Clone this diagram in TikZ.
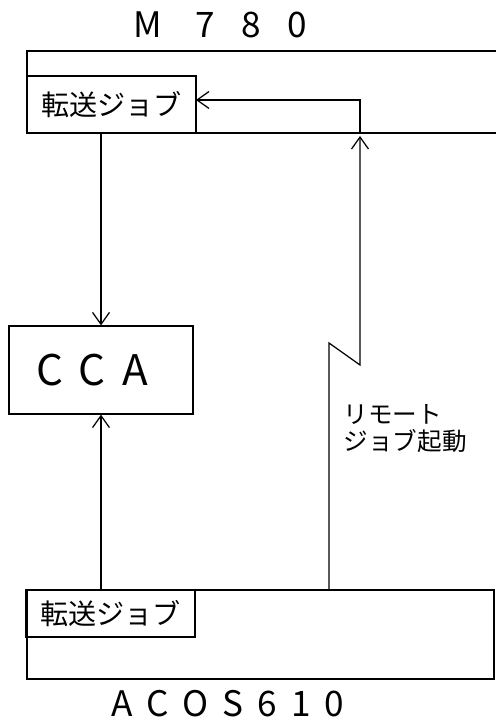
\documentclass[tikz,border=0pt]{standalone}
\usepackage{fontspec}
\setmainfont{Noto Sans CJK JP}
\newfontfamily\widefont[LetterSpace=75]{Noto Sans CJK JP}
\newfontfamily\acosfont[LetterSpace=40]{Noto Sans CJK JP}
\newfontfamily\ccafont[LetterSpace=40]{Noto Sans CJK JP}
\usepackage{tikz}
\usetikzlibrary{arrows.meta,positioning}

\begin{document}
\begin{tikzpicture}[x=0.02cm,y=-0.02cm,line width=0.7pt,
  jobbox/.style={draw,inner sep=0pt,outer sep=0pt,minimum width=3.38cm,font=\fontsize{16}{18}\selectfont},
  arr/.style={-{Straight Barb[length=2.4mm,width=3.4mm]}}]
\useasboundingbox (0,0) rectangle (496,722);
% M780 side
\node[font=\widefont\fontsize{20}{22}\selectfont] (m780lab) at (220,25) {M 780};
\draw (496,51) -- (27,51) -- (27,133) -- (496,133);
\node[jobbox,minimum height=1.14cm] (m780job) at (111.5,104.5) {転送ジョブ};
% CCA
\node[draw,inner sep=0pt,minimum width=3.68cm,minimum height=1.76cm,font=\ccafont\fontsize{24}{26}\selectfont] (cca) at (101,370) {CCA\rule{0.35cm}{0pt}};
% ACOS610 side
\draw (27,590) rectangle (494,679);
\node[jobbox,minimum height=0.94cm] (acosjob) at (110.5,613.5) {転送ジョブ};
\node[font=\acosfont\fontsize{20}{22}\selectfont] (acoslab) at (228,704) {ACOS610};
% file transfer paths
\draw[arr] (m780job.south -| cca.north) -- (cca.north);
\draw[arr] (acosjob.north -| cca.south) -- (cca.south);
% remote job start
\coordinate (rstart) at (329,590);
\coordinate (rtop) at (360,136);
\draw[arr] (rstart) -- (329,343) -- (360,365) -- (rtop);
\draw[arr] (360,133) -- (360,100) -- (m780job.east |- 0,100);
\node[anchor=north west,align=left,inner sep=0pt,font=\fontsize{14}{15.5}\selectfont] (rlab) at (343,404) {リモート\\ジョブ起動};
\end{tikzpicture}
\end{document}
